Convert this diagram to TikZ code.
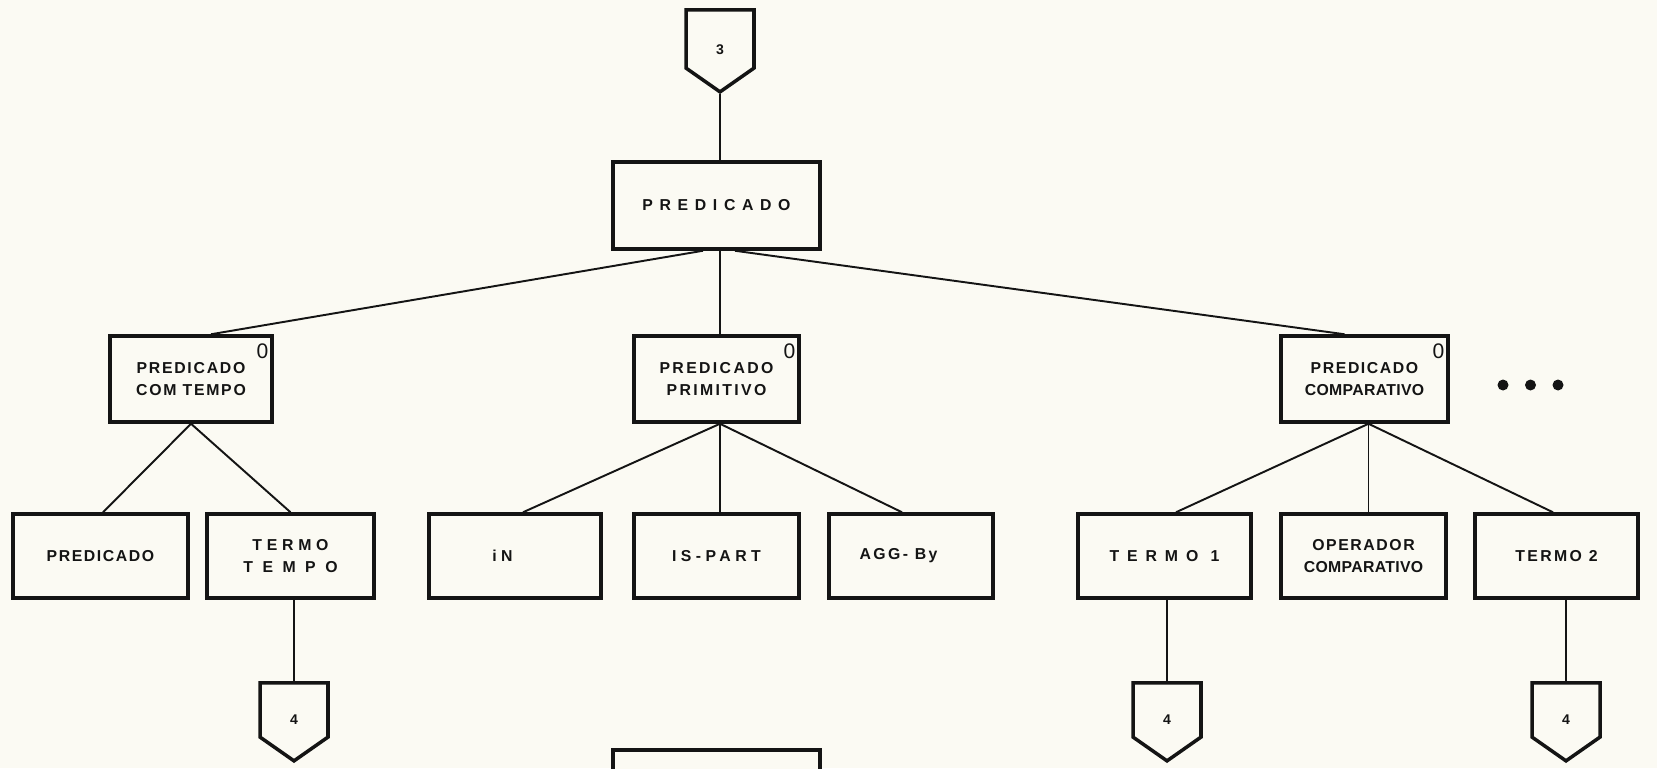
\documentclass[tikz,border=0pt]{standalone}
\usepackage{fontspec}
\newfontfamily\boxfont{Liberation Sans}
\newcommand\spaced[1]{\addfontfeature{LetterSpace=#1}}
\newcommand\lowered[2]{\raisebox{-#1}[\height][\depth]{#2}}
\usepackage{xcolor}
\definecolor{paper}{HTML}{FBFAF3}
\definecolor{ink}{HTML}{141414}
\usepackage{tikz}
\usetikzlibrary{
  shapes.symbols,
  positioning,
  calc
}

\begin{document}
\begin{tikzpicture}[
    x=0.02cm, y=-0.02cm,
    box/.style={
      rectangle,
      draw=ink,
      line width=2pt,
      fill=paper,
      inner sep=2pt,
      align=center,
      text=ink,
      font=\boxfont\bfseries\fontsize{9}{13}\selectfont
    },
    top/.style={box, minimum width=4.14cm, minimum height=1.74cm},
    mid/.style={box, minimum height=1.72cm},
    leaf/.style={box, minimum height=1.68cm},
    offpage/.style={
      signal,
      signal to=south,
      signal pointer angle=110,
      draw=ink,
      line width=2pt,
      fill=paper,
      text=ink,
      font=\boxfont\bfseries\fontsize{8}{10}\selectfont,
      minimum width=1.36cm,
      minimum height=#1
    },
    zero/.style={
      font=\boxfont\fontsize{12}{12}\selectfont,
      inner sep=0pt,
      text=ink
    },
    link/.style={
      draw=ink,
      line width=1.1pt
    }
  ]
    % Paper and page size
    \fill[paper] (0,0) rectangle (1657,768);
    \useasboundingbox (0,0) rectangle (1657,768);
    \clip (0,0) rectangle (1657,768);

    % Entry connector and root
    \node[offpage=1.3cm] (in3) at (720, 39) {\lowered{0.22cm}{3}};
    \node[top] (pred) at (716.5, 205.5) {\spaced{42}PREDICADO};

    % Second level
    \node[mid, minimum width=3.24cm] (comtempo) at (191, 379)
      {{\spaced{11}PREDICADO}\\{\spaced{11}COM TEMPO}};
    \node[mid, minimum width=3.3cm] (primitivo) at (716.5, 379)
      {{\spaced{15}PREDICADO}\\{\spaced{15}PRIMITIVO}};
    \node[mid, minimum width=3.34cm] (comparativo) at (1364.5, 379)
      {{\spaced{10}PREDICADO}\\{\spaced{2}COMPARATIVO}};

    % Zero marks in the corners
    \node[zero, below left=0.18cm and 0.1cm of comtempo.north east] (z1) {0};
    \node[zero, below left=0.18cm and 0.1cm of primitivo.north east] (z2) {0};
    \node[zero, below left=0.18cm and 0.1cm of comparativo.north east] (z3) {0};

    % More alternatives
    \foreach \i in {0,1,2}
      \fill[ink] (1503+27.5*\i, 385) circle (0.11cm);

    % Third level
    \node[leaf, minimum width=3.5cm] (predleaf) at (100.5, 556) {\spaced{10}PREDICADO};
    \node[leaf, minimum width=3.34cm] (termotempo) at (290.5, 556)
      {{\spaced{30}TERMO}\\{\spaced{60}TEMPO}};
    \node[leaf, minimum width=3.44cm] (in) at (515, 556) {\spaced{28}iN\hspace{0.5cm}};
    \node[leaf, minimum width=3.3cm] (ispart) at (716.5, 556) {\spaced{28}IS-PART};
    \node[leaf, minimum width=3.28cm] (aggby) at (911, 556) {\spaced{15}AGG- By\hspace{0.5cm}};
    \node[leaf, minimum width=3.46cm] (termo1) at (1164.5, 556) {\spaced{50}TERMO 1};
    \node[leaf, minimum width=3.3cm] (operador) at (1363.5, 556)
      {{\spaced{10}OPERADOR}\\{\spaced{2}COMPARATIVO}};
    \node[leaf, minimum width=3.26cm] (termo2) at (1556.5, 556) {\spaced{15}TERMO 2};

    % Exit connectors
    \node[offpage=1.22cm] (out4a) at (294, 710) {\lowered{0.2cm}{4}};
    \node[offpage=1.22cm] (out4b) at (1167, 710) {\lowered{0.2cm}{4}};
    \node[offpage=1.22cm] (out4c) at (1566, 710) {\lowered{0.2cm}{4}};

    % Next box, cut by the page edge
    \node[top] (next) at (716.5, 793.5) {};

    % Tree lines
    \draw[link] (in3.south) -- (in3.south |- pred.north);
    \draw[link] ($(pred.south)+(-13.5,0)$) -- ($(comtempo.north)+(20,0)$);
    \draw[link] ($(pred.south)+(3.5,0)$) coordinate (rp) -- (rp |- primitivo.north);
    \draw[link] ($(pred.south)+(18.5,0)$) -- ($(comparativo.north)+(-20,0)$);

    \draw[link] (comtempo.south) -- ($(predleaf.north)+(2.5,0)$);
    \draw[link] (comtempo.south) -- (termotempo.north);

    \draw[link] ($(primitivo.south)+(3.5,0)$) coordinate (pp) -- ($(in.north)+(8,0)$);
    \draw[link] (pp) -- (pp |- ispart.north);
    \draw[link] (pp) -- ($(aggby.north)+(-9,0)$);

    \draw[link] ($(comparativo.south)+(4,0)$) coordinate (cp) -- ($(termo1.north)+(11.5,0)$);
    \draw[link] (cp) -- (cp |- operador.north);
    \draw[link] (cp) -- ($(termo2.north)+(-3.5,0)$);

    \draw[link] (out4a.north |- termotempo.south) -- (out4a.north);
    \draw[link] (out4b.north |- termo1.south) -- (out4b.north);
    \draw[link] (out4c.north |- termo2.south) -- (out4c.north);
  \end{tikzpicture}
\end{document}
